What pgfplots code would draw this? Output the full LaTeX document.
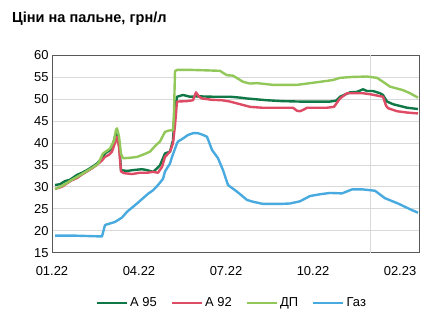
\documentclass[border=0pt]{standalone}
\usepackage{fontspec}
\setmainfont{Liberation Sans}
\usepackage{pgfplots}
\pgfplotsset{compat=1.18}
\definecolor{cA95}{RGB}{16,120,70}
\definecolor{cA92}{RGB}{222,75,100}
\definecolor{cDP}{RGB}{146,200,90}
\definecolor{cGaz}{RGB}{72,170,222}
\begin{document}
\begin{tikzpicture}
\path[use as bounding box] (0bp,0bp) rectangle (434bp,328bp);
\node[anchor=base west, inner sep=0pt, font=\fontsize{14.6}{16}\selectfont\bfseries] at (12bp,305bp) {Ціни на пальне, грн/л};
\begin{axis}[
  at={(52bp,75.3bp)}, anchor=south west, scale only axis,
  width=367bp, height=197.7bp,
  xmin=0, xmax=367, ymin=15, ymax=60,
  ytick={15,20,...,60},
  xtick={0,87,174,261,348},
  xticklabels={01.22,04.22,07.22,10.22,02.23},
  extra x ticks={318}, extra x tick labels={},
  extra x tick style={grid=major},
  major tick length=0pt,
  ymajorgrids,
  grid style={draw=black!15, line width=0.6bp},
  axis line style={draw=black!65, line width=0.8bp},
  tick label style={font=\fontsize{13}{15}\selectfont},
  /pgf/number format/assume math mode=true,
  xticklabel style={yshift=-10bp},
  yticklabel style={xshift=0bp},
  legend columns=4,
  legend style={at={(0.49,-0.255)}, anchor=center, draw=none, fill=none,
    font=\fontsize{13}{15}\selectfont, inner sep=0pt,
    /tikz/every even column/.append style={column sep=12bp}},
  legend cell align=left,
  legend image code/.code={\draw[#1] (0bp,0bp) -- (30bp,0bp);},
  every axis plot/.append style={line width=2.4bp, line join=round},
]
\addplot[cA95] coordinates {
(3,30.4)(8,30.6)(13,31.3)(18,31.6)(25,32.7)(30,33.2)(35,33.8)(40,34.5)(45,35.3)(50,36.5)(53,37.6)(57,38.2)(60,38.7)(63,41.5)(65,42.5)(67,40.5)(69,33.8)(75,33.6)(81,33.8)(90,34.0)(95,33.8)(101,33.4)(105,34.2)(108,34.9)(113,37.6)(118,38.0)(121,40.6)(122,44)(123,47.5)(125,50.5)(131,50.9)(138,50.5)(145,50.6)(161,50.5)(178,50.5)(188,50.3)(195,50.1)(215,49.7)(230,49.5)(248,49.4)(278,49.4)(284,49.6)(288,50.5)(298,51.5)(305,51.6)(311,52.2)(315,51.8)(321,51.8)(328,51.3)(331,50.9)(335,49.4)(341,48.8)(355,48.0)(366,47.7)
};
\addlegendentry{A 95}
\addplot[cA92] coordinates {
(3,29.5)(10,30.0)(15,30.8)(20,31.5)(25,32.0)(30,32.8)(35,33.5)(40,34.2)(45,35.0)(50,36.0)(53,36.8)(57,37.3)(60,38.0)(63,40.0)(65,41.4)(67,39)(69,33.5)(72,33.1)(80,32.9)(88,33.2)(95,33.2)(101,33.4)(106,33.2)(110,34.5)(113,36.8)(118,38.0)(121,39.9)(123,44)(125,49.4)(135,49.5)(141,49.7)(144,51.5)(147,50.5)(150,50.1)(160,49.8)(170,49.7)(178,49.4)(188,48.8)(198,48.2)(210,48.0)(221,48.0)(241,48.0)(245,47.3)(248,47.2)(252,47.6)(255,48.0)(275,48.0)(282,48.2)(288,50.1)(295,51.3)(311,51.3)(320,51.0)(331,50.5)(334,48.5)(336,47.9)(345,47.2)(355,46.9)(366,46.7)
};
\addlegendentry{A 92}
\addplot[cDP] coordinates {
(3,29.5)(10,30.2)(20,31.6)(30,32.9)(40,34.3)(46,35.2)(51,37.6)(58,38.7)(62,40.5)(64,43.0)(65,43.3)(67,41.5)(69,37.5)(71,36.5)(78,36.6)(85,36.8)(92,37.4)(98,38.0)(104,39.5)(108,40.3)(113,42.5)(117,42.8)(121,42.9)(122,47)(123,56.3)(125,56.6)(140,56.6)(155,56.5)(168,56.4)(172,55.8)(175,55.4)(181,55.3)(191,53.9)(198,53.5)(205,53.6)(221,53.2)(245,53.2)(265,53.8)(281,54.3)(288,54.8)(300,55.0)(315,55.1)(325,54.8)(331,53.9)(338,52.8)(351,52.0)(358,51.3)(366,50.3)
};
\addlegendentry{ДП}
\addplot[cGaz] coordinates {
(3,18.9)(20,18.9)(35,18.8)(49,18.7)(50,18.7)(53,21.3)(63,22.0)(70,23.0)(75,24.3)(85,26.2)(91,27.4)(96,28.4)(101,29.2)(106,30.4)(111,31.8)(113,33.5)(118,35.3)(120,36.8)(125,39.9)(126,40.3)(131,41.0)(136,41.8)(141,42.2)(146,42.2)(150,41.9)(155,41.4)(160,38.4)(166,36.5)(171,33.8)(176,30.4)(185,28.9)(195,27.0)(201,26.6)(211,26.1)(228,26.1)(238,26.2)(248,26.7)(258,27.9)(268,28.3)(278,28.6)(290,28.5)(300,29.4)(311,29.4)(323,29.1)(333,27.4)(346,26.2)(358,24.9)(366,24.1)
};
\addlegendentry{Газ}
\end{axis}
\end{tikzpicture}
\end{document}
